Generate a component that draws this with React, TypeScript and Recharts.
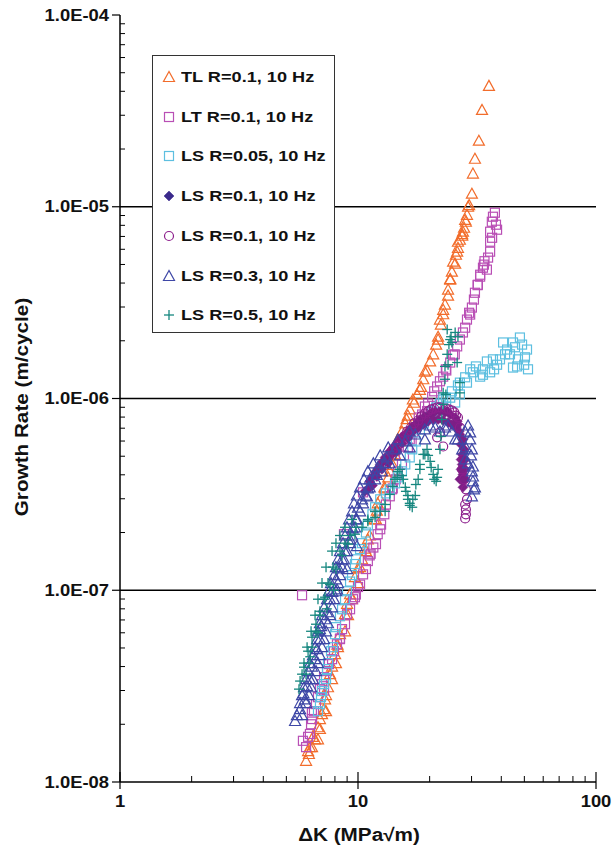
import React from 'react';
import { ScatterChart, Scatter, XAxis, YAxis, ReferenceLine } from 'recharts';

const FONT = '"Liberation Sans", Arial, Helvetica, sans-serif';

// ΔK (MPa√m) vs growth rate (m/cycle)
const tlR01: [number, number][] = [
  [6.05, 1.29e-8], [6.17, 1.45e-8], [6.22, 1.4e-8], [6.28, 1.52e-8], [6.41, 1.52e-8], [6.47, 1.72e-8],
  [6.6, 1.67e-8], [6.79, 1.67e-8], [6.79, 1.93e-8], [6.92, 1.89e-8], [6.92, 2.13e-8], [7.06, 2.26e-8],
  [7.2, 2.4e-8], [7.34, 2.34e-8], [7.27, 2.7e-8], [7.34, 2.84e-8], [7.48, 3.12e-8], [7.63, 3.65e-8],
  [7.78, 3.44e-8], [7.78, 4.0e-8], [8.08, 4.17e-8], [8.01, 4.64e-8], [8.24, 5.05e-8], [8.2, 5.2e-8],
  [8.4, 5.9e-8], [8.82, 6.11e-8], [8.82, 7.5e-8], [9.08, 7.41e-8], [9.0, 8.5e-8], [9.26, 9.53e-8],
  [9.44, 8.98e-8], [9.71, 1.17e-7], [10.0, 1.09e-7], [10.0, 1.3e-7], [10.2, 1.32e-7], [10.4, 1.45e-7],
  [10.7, 1.65e-7], [10.8, 1.6e-7], [11.0, 1.84e-7], [11.2, 1.93e-7], [11.7, 2.34e-7], [11.9, 2.34e-7],
  [12.0, 2.6e-7], [12.1, 2.84e-7], [12.4, 2.98e-7], [12.9, 3.44e-7], [13.0, 3.4e-7], [13.4, 3.88e-7],
  [13.6, 4.17e-7], [14.0, 4.5e-7], [13.9, 5.05e-7], [14.3, 5.11e-7], [14.7, 6.12e-7], [15.0, 6.0e-7],
  [15.3, 6.73e-7], [15.8, 7.41e-7], [16.0, 7.8e-7], [16.2, 8.15e-7], [16.5, 8.77e-7], [17.2, 9.5e-7],
  [17.0, 9.88e-7], [17.7, 1.05e-6], [18.2, 1.11e-6], [18.4, 1.15e-6], [18.8, 1.26e-6], [19.1, 1.38e-6],
  [19.5, 1.4e-6], [20.1, 1.56e-6], [20.7, 1.7e-6], [21.3, 1.91e-6], [21.7, 2.03e-6], [21.7, 2.1e-6],
  [22.3, 2.43e-6], [22.1, 2.58e-6], [22.8, 2.75e-6], [22.8, 2.9e-6], [23.2, 3.09e-6], [23.9, 3.44e-6],
  [23.9, 3.7e-6], [24.4, 4.17e-6], [24.4, 4.2e-6], [24.8, 4.59e-6], [25.6, 5.05e-6], [25.1, 5.17e-6],
  [25.8, 5.62e-6], [26.1, 5.83e-6], [26.3, 6.11e-6], [26.3, 6.57e-6], [26.8, 6.73e-6], [27.4, 7.06e-6],
  [27.4, 7.2e-6], [27.6, 7.41e-6], [27.9, 7.77e-6], [28.4, 8.35e-6], [28.2, 8.55e-6], [28.7, 9.08e-6],
  [29.0, 1.0e-5], [29.3, 1.02e-5], [30.1, 1.17e-5], [30.4, 1.49e-5], [31.0, 1.78e-5], [32.2, 2.21e-5],
  [33.2, 3.2e-5], [35.5, 4.27e-5],
];

const ltR01: [number, number][] = [
  [6.05, 1.52e-8], [5.87, 1.64e-8], [6.17, 1.72e-8], [6.28, 1.78e-8], [6.35, 2.0e-8], [6.41, 2.13e-8],
  [6.4, 2.3e-8], [6.53, 2.34e-8], [6.66, 2.55e-8], [6.79, 2.77e-8], [6.92, 3.05e-8], [7.06, 3.24e-8],
  [7.2, 3.0e-8], [7.2, 3.52e-8], [7.41, 3.79e-8], [7.55, 4.12e-8], [7.78, 4.37e-8], [7.93, 4.81e-8],
  [8.16, 5.23e-8], [8.4, 5.56e-8], [8.4, 5.6e-8], [8.57, 6.27e-8], [8.82, 6.65e-8], [8.99, 7.5e-8],
  [9.26, 7.96e-8], [9.53, 8.98e-8], [9.71, 9.2e-8], [9.8, 9.5e-8], [10.0, 1.04e-7], [10.2, 1.07e-7],
  [10.5, 1.21e-7], [10.8, 1.29e-7], [11.0, 1.42e-7], [11.2, 1.52e-7], [11.3, 1.55e-7], [11.6, 1.67e-7],
  [11.9, 1.74e-7], [12.1, 1.96e-7], [12.4, 2.08e-7], [12.5, 2.2e-7], [12.9, 2.49e-7], [13.1, 2.8e-7],
  [13.6, 3.09e-7], [13.9, 3.36e-7], [14.0, 3.4e-7], [14.4, 3.79e-7], [14.7, 4.17e-7], [15.3, 4.53e-7],
  [15.6, 5.05e-7], [16.2, 5.55e-7], [16.8, 6.0e-7], [16.5, 6.12e-7], [17.0, 6.65e-7], [17.5, 7.06e-7],
  [18.0, 7.96e-7], [18.6, 8.25e-7], [19.1, 9.08e-7], [19.5, 8.6e-7], [19.7, 9.42e-7], [20.5, 1.02e-6],
  [20.9, 1.09e-6], [21.5, 1.155e-6], [22.1, 1.23e-6], [22.8, 1.3e-6], [23.4, 1.42e-6], [23.5, 1.4e-6],
  [24.4, 1.54e-6], [25.1, 1.68e-6], [25.5, 1.7e-6], [26.1, 1.87e-6], [26.8, 2.03e-6], [27.6, 2.21e-6],
  [28.2, 2.34e-6], [28.7, 2.58e-6], [29.6, 2.74e-6], [29.3, 2.8e-6], [30.1, 2.98e-6], [30.7, 3.28e-6],
  [31.0, 3.56e-6], [31.9, 3.92e-6], [31.8, 3.9e-6], [32.6, 4.32e-6], [32.6, 4.42e-6], [33.5, 4.81e-6],
  [33.8, 4.99e-6], [34.0, 5.2e-6], [34.8, 4.7e-6], [35.2, 5.43e-6], [35.9, 5.83e-6], [35.9, 6.57e-6],
  [36.6, 6.89e-6], [35.9, 7.41e-6], [38.4, 7.59e-6], [38.0, 8.06e-6], [36.5, 8.35e-6], [36.9, 8.87e-6],
  [37.6, 9.31e-6],
  [5.82, 9.42e-8], [8.73, 1.96e-7], [10.5, 3.24e-7],
];

const lsR005: [number, number][] = [
  [6.79, 2.34e-8], [6.92, 2.55e-8], [6.99, 2.77e-8], [7.06, 2.98e-8], [7.2, 3.24e-8], [7.34, 3.44e-8],
  [7.41, 3.88e-8], [7.48, 4.17e-8], [7.7, 4.81e-8], [7.85, 5.05e-8], [8.01, 5.9e-8], [8.08, 6.42e-8],
  [8.4, 7.32e-8], [8.57, 7.96e-8], [8.82, 8.98e-8], [8.99, 9.88e-8], [9.26, 1.11e-7], [9.44, 1.2e-7],
  [9.71, 1.37e-7], [9.81, 1.45e-7], [10.2, 1.64e-7], [10.4, 1.76e-7], [10.8, 2.0e-7], [11.0, 2.18e-7],
  [11.5, 2.49e-7], [11.8, 2.71e-7], [12.4, 2.98e-7], [13.1, 3.2e-7], [13.6, 3.36e-7], [14.3, 3.61e-7],
  [14.7, 3.88e-7], [15.3, 4.17e-7], [15.8, 4.53e-7], [16.5, 4.93e-7], [16.9, 5.43e-7], [17.5, 5.97e-7],
  [18.2, 6.9e-7], [18.9, 7.41e-7], [19.7, 7.96e-7], [20.5, 8.56e-7], [21.3, 8.98e-7], [22.1, 9.42e-7],
  [22.8, 9.88e-7], [23.4, 1.01e-6], [24.4, 1.01e-6], [24.8, 1.09e-6], [25.6, 9.53e-7], [26.3, 1.17e-6],
  [26.8, 1.05e-6], [26.8, 1.21e-6], [28.2, 1.29e-6], [28.7, 1.21e-6], [29.6, 1.42e-6], [30.4, 1.37e-6],
  [31.3, 1.47e-6], [32.6, 1.3e-6], [33.5, 1.33e-6], [33.5, 1.42e-6], [34.8, 1.56e-6], [35.9, 1.37e-6],
  [36.9, 1.6e-6], [37.3, 1.42e-6], [38.4, 1.5e-6], [39.5, 1.6e-6], [40.7, 1.96e-6], [41.5, 1.7e-6],
  [42.3, 1.8e-6], [43.5, 1.7e-6], [44.8, 1.96e-6], [44.8, 1.45e-6], [45.7, 1.85e-6], [46.6, 1.47e-6],
  [47.0, 1.6e-6], [47.9, 2.08e-6], [48.9, 1.91e-6], [49.9, 1.5e-6], [50.3, 1.64e-6], [51.3, 1.8e-6],
  [51.8, 1.42e-6],
];

const lsR01Diamond: [number, number][] = [
  [10.7, 3.28e-7], [11.0, 3.36e-7], [11.2, 3.7e-7], [11.5, 3.52e-7], [11.5, 3.9e-7], [11.8, 4.12e-7],
  [12.0, 3.92e-7], [12.1, 4.3e-7], [12.4, 4.53e-7], [12.6, 4.27e-7], [12.7, 4.7e-7], [13.0, 4.93e-7],
  [13.1, 4.7e-7], [13.4, 4.6e-7], [13.6, 5.3e-7], [13.9, 5.11e-7], [14.0, 5.5e-7], [14.3, 5.69e-7],
  [14.6, 5.3e-7], [14.6, 5.43e-7], [15.0, 6.12e-7], [15.3, 5.83e-7], [15.3, 6.3e-7], [15.8, 6.49e-7],
  [16.2, 6.2e-7], [16.2, 6.27e-7], [16.5, 6.9e-7], [16.9, 7.1e-7], [17.0, 6.73e-7], [17.4, 7.32e-7],
  [17.9, 7.06e-7], [18.0, 7.2e-7], [18.2, 7.77e-7], [18.8, 7.32e-7], [18.8, 7.9e-7], [19.1, 8.06e-7],
  [19.7, 7.59e-7], [20.1, 8.35e-7], [20.5, 8.4e-7], [20.7, 7.77e-7], [21.1, 8.56e-7], [21.7, 7.77e-7],
  [22.1, 8.56e-7], [22.8, 7.68e-7], [23.2, 8.46e-7], [23.7, 8.6e-7], [23.9, 7.5e-7], [24.4, 8.25e-7],
  [24.8, 7.32e-7], [25.6, 7.96e-7], [25.8, 7.06e-7], [26.1, 7.6e-7], [26.3, 7.32e-7], [26.6, 6.73e-7],
  [26.8, 6.49e-7], [27.6, 6.12e-7], [27.1, 5.76e-7], [27.9, 5.43e-7], [27.4, 5.11e-7], [28.2, 4.81e-7],
  [27.1, 4.8e-7], [27.4, 4.53e-7], [27.1, 4.27e-7], [28.2, 4.27e-7], [27.4, 4.2e-7], [27.6, 4.02e-7],
  [26.8, 3.79e-7], [28.2, 3.79e-7], [27.6, 3.7e-7], [27.6, 3.44e-7],
];

const lsR01Circle: [number, number][] = [
  [13.4, 4.93e-7], [14.0, 5.43e-7], [14.6, 5.69e-7], [15.0, 6.04e-7], [15.6, 6.34e-7], [16.1, 6.73e-7],
  [16.7, 7.06e-7], [17.2, 7.41e-7], [17.9, 7.68e-7], [18.4, 8.06e-7], [19.1, 8.35e-7], [19.7, 8.56e-7],
  [20.3, 8.77e-7], [20.9, 8.87e-7], [21.5, 8.98e-7], [22.1, 8.98e-7], [23.4, 8.87e-7], [24.1, 8.77e-7],
  [24.8, 8.66e-7], [25.4, 8.46e-7], [25.8, 8.15e-7], [26.3, 7.96e-7], [26.8, 7.06e-7], [21.5, 6.27e-7],
  [22.1, 6.65e-7], [22.8, 5.62e-7], [27.6, 4.81e-7], [27.4, 4.27e-7], [27.9, 3.79e-7], [28.4, 3.36e-7],
  [28.7, 2.98e-7], [28.2, 2.8e-7], [28.4, 2.64e-7], [28.4, 2.49e-7], [28.2, 2.37e-7],
];

const lsR03: [number, number][] = [
  [5.44, 2.08e-8], [5.54, 2.23e-8], [5.82, 2.23e-8], [5.71, 2.4e-8], [5.71, 2.58e-8], [6.05, 2.58e-8],
  [5.82, 2.84e-8], [6.22, 2.84e-8], [5.9, 2.9e-8], [5.99, 2.7e-8], [5.93, 3.12e-8], [6.35, 3.12e-8],
  [6.11, 3.16e-8], [6.05, 3.44e-8], [6.28, 3.44e-8], [6.47, 3.44e-8], [6.17, 3.79e-8], [6.66, 3.79e-8],
  [6.4, 4.0e-8], [6.28, 4.17e-8], [6.79, 4.17e-8], [6.6, 4.37e-8], [6.47, 4.59e-8], [6.92, 4.59e-8],
  [6.73, 4.93e-8], [6.6, 5.05e-8], [7.06, 5.05e-8], [6.92, 5.56e-8], [6.73, 5.56e-8], [7.2, 5.56e-8],
  [6.79, 6.11e-8], [7.34, 6.11e-8], [7.0, 6.5e-8], [6.92, 6.27e-8], [6.92, 6.73e-8], [7.48, 6.73e-8],
  [7.27, 7.06e-8], [7.06, 7.41e-8], [7.63, 7.41e-8], [7.41, 7.68e-8], [7.2, 8.15e-8], [7.78, 8.15e-8],
  [7.63, 8.98e-8], [7.41, 8.98e-8], [7.93, 8.98e-8], [7.8, 9.8e-8], [7.55, 9.88e-8], [8.08, 9.88e-8],
  [8.16, 1.01e-7], [7.7, 1.09e-7], [8.24, 1.09e-7], [8.08, 1.14e-7], [7.93, 1.2e-7], [8.4, 1.2e-7],
  [8.3, 1.3e-7], [8.08, 1.32e-7], [8.57, 1.32e-7], [8.99, 1.29e-7], [8.57, 1.45e-7], [8.24, 1.45e-7],
  [8.73, 1.45e-7], [8.8, 1.6e-7], [8.4, 1.6e-7], [8.99, 1.6e-7], [9.9, 1.7e-7], [8.65, 1.76e-7],
  [9.26, 1.76e-7], [9.26, 1.84e-7], [8.82, 1.93e-7], [9.44, 1.93e-7], [9.5, 2.1e-7], [8.99, 2.13e-7],
  [9.71, 2.13e-7], [9.81, 2.34e-7], [9.17, 2.34e-7], [9.9, 2.34e-7], [9.44, 2.58e-7], [10.2, 2.58e-7],
  [10.0, 2.7e-7], [9.62, 2.84e-7], [10.5, 2.84e-7], [10.4, 2.98e-7], [10.9, 3.09e-7], [9.9, 3.12e-7],
  [10.8, 3.12e-7], [11.0, 3.4e-7], [10.2, 3.44e-7], [11.2, 3.44e-7], [11.2, 3.79e-7], [10.6, 3.79e-7],
  [11.8, 3.79e-7], [12.0, 4.0e-7], [11.0, 4.17e-7], [12.6, 4.17e-7], [12.1, 4.37e-7], [11.6, 4.59e-7],
  [13.0, 4.6e-7], [13.6, 4.59e-7], [13.2, 4.93e-7], [12.4, 5.05e-7], [15.0, 5.05e-7], [14.3, 5.43e-7],
  [13.4, 5.56e-7], [16.5, 5.56e-7], [15.8, 5.97e-7], [14.7, 6.12e-7], [19.1, 6.12e-7], [25.6, 6.12e-7],
  [17.4, 6.49e-7], [16.5, 6.73e-7], [22.1, 6.73e-7], [28.2, 6.73e-7], [19.1, 6.9e-7], [21.1, 7.06e-7],
  [20.1, 7.23e-7], [23.9, 7.23e-7], [29.0, 7.23e-7], [23.2, 7.06e-7], [24.8, 6.73e-7], [26.3, 6.12e-7],
  [27.4, 5.43e-7], [28.4, 5.56e-7], [28.2, 4.81e-7], [29.0, 4.59e-7], [29.6, 6.65e-7], [29.6, 6.12e-7],
  [30.1, 5.43e-7], [29.85, 5.05e-7], [30.4, 4.42e-7], [30.1, 4.17e-7], [30.4, 3.92e-7], [30.4, 3.7e-7],
  [31.0, 3.44e-7], [30.7, 3.36e-7], [30.1, 3.09e-7],
];

const lsR05: [number, number][] = [
  [5.71, 3.36e-8], [5.65, 3.05e-8], [5.82, 3.65e-8], [6.05, 3.65e-8], [5.93, 3.97e-8], [5.93, 4.17e-8],
  [6.22, 4.17e-8], [6.17, 4.81e-8], [6.3, 4.5e-8], [6.11, 5.05e-8], [6.41, 5.05e-8], [6.41, 5.69e-8],
  [6.35, 6.11e-8], [6.66, 6.11e-8], [6.66, 6.65e-8], [6.8, 6.0e-8], [6.6, 7.41e-8], [6.92, 7.41e-8],
  [6.92, 7.77e-8], [6.79, 8.98e-8], [7.2, 8.98e-8], [7.27, 9.2e-8], [7.4, 8.0e-8], [7.06, 1.09e-7],
  [7.48, 1.09e-7], [7.63, 1.07e-7], [7.9, 1.0e-7], [7.34, 1.32e-7], [7.85, 1.32e-7], [8.08, 1.29e-7],
  [8.57, 1.52e-7], [7.78, 1.6e-7], [8.4, 1.6e-7], [8.08, 1.76e-7], [8.82, 1.76e-7], [9.08, 1.74e-7],
  [8.4, 1.93e-7], [9.26, 1.93e-7], [9.71, 1.96e-7], [8.82, 2.13e-7], [9.81, 2.13e-7], [10.4, 2.13e-7],
  [11.0, 2.29e-7], [9.44, 2.34e-7], [11.0, 2.34e-7], [11.8, 2.4e-7], [11.8, 2.58e-7], [12.4, 2.58e-7],
  [13.0, 2.58e-7], [13.0, 2.8e-7], [13.6, 3.16e-7], [14.0, 3.48e-7], [14.3, 3.79e-7], [14.6, 3.88e-7],
  [14.7, 4.17e-7], [15.0, 4.27e-7], [15.3, 3.97e-7], [15.5, 3.79e-7], [15.8, 3.44e-7], [15.9, 3.28e-7],
  [16.2, 3.12e-7], [16.2, 2.98e-7], [16.5, 2.84e-7], [16.5, 2.77e-7], [16.9, 2.71e-7], [17.0, 2.98e-7],
  [17.4, 3.12e-7], [17.5, 3.56e-7], [17.9, 3.79e-7], [18.2, 4.27e-7], [18.2, 4.53e-7], [18.8, 5.11e-7],
  [19.1, 5.11e-7], [19.5, 5.43e-7], [19.7, 5.05e-7], [20.1, 4.7e-7], [20.3, 4.37e-7], [20.7, 4.02e-7],
  [20.9, 3.79e-7], [21.3, 3.7e-7], [21.5, 3.88e-7], [21.7, 4.27e-7], [22.1, 5.43e-7], [22.3, 6.34e-7],
  [22.5, 7.77e-7], [22.8, 9.31e-7], [22.8, 1.07e-6], [23.4, 1.05e-6], [23.2, 1.26e-6], [23.2, 1.47e-6],
  [23.9, 1.5e-6], [23.7, 1.7e-6], [24.1, 1.91e-6], [24.8, 1.96e-6], [24.4, 2.03e-6], [24.6, 2.1e-6],
  [23.7, 2.29e-6], [25.6, 2.21e-6], [26.3, 2.1e-6], [26.1, 1.54e-6], [26.8, 1.21e-6], [26.8, 1.07e-6],
];

const SERIES = [
  { name: 'TL R=0.1, 10 Hz', data: tlR01, marker: 'triangle', color: '#F26C2B', key: '#F26C2B' },
  { name: 'LT R=0.1, 10 Hz', data: ltR01, marker: 'square', color: '#B94FB5', key: '#B94FB5' },
  { name: 'LS R=0.05, 10 Hz', data: lsR005, marker: 'square', color: '#5DBFE0', key: '#5DBFE0' },
  { name: 'LS R=0.1, 10 Hz', data: lsR01Diamond, marker: 'diamond', color: '#7D1F86', key: '#3B2A8C' },
  { name: 'LS R=0.1, 10 Hz', data: lsR01Circle, marker: 'circle', color: '#8C1E8C', key: '#8C1E8C' },
  { name: 'LS R=0.3, 10 Hz', data: lsR03, marker: 'triangle', color: '#3E47A6', key: '#3E47A6' },
  { name: 'LS R=0.5, 10 Hz', data: lsR05, marker: 'plus', color: '#16877F', key: '#16877F' },
];

const Y_TICKS: number[] = [];
for (let d = -8; d <= -5; d++) for (let k = 1; k <= 9; k++) Y_TICKS.push(k * Math.pow(10, d));
Y_TICKS.push(1e-4);
const X_TICKS: number[] = [];
for (let d = 0; d <= 1; d++) for (let k = 1; k <= 9; k++) X_TICKS.push(k * Math.pow(10, d));
X_TICKS.push(100);

function isMajor(v: number) {
  const e = Math.round(Math.log10(v));
  return Math.abs(v / Math.pow(10, e) - 1) < 1e-6;
}

function Marker({ kind, cx, cy, color }: { kind: string; cx: number; cy: number; color: string }) {
  if (cx == null || cy == null) return null;
  switch (kind) {
    case 'triangle':
      return <polygon points={`${cx},${cy - 5.5} ${cx - 5.5},${cy + 4.5} ${cx + 5.5},${cy + 4.5}`} fill="none" stroke={color} strokeWidth={1.2} />;
    case 'square':
      return <rect x={cx - 4.5} y={cy - 4.5} width={9} height={9} fill="none" stroke={color} strokeWidth={1.2} />;
    case 'diamond':
      return <polygon points={`${cx},${cy - 5} ${cx + 5},${cy} ${cx},${cy + 5} ${cx - 5},${cy}`} fill={color} stroke={color} strokeWidth={0.5} />;
    case 'circle':
      return <circle cx={cx} cy={cy} r={4.5} fill="none" stroke={color} strokeWidth={1.2} />;
    default:
      return (
        <g stroke={color} strokeWidth={1.3}>
          <line x1={cx - 5} x2={cx + 5} y1={cy} y2={cy} />
          <line x1={cx} x2={cx} y1={cy - 5} y2={cy + 5} />
        </g>
      );
  }
}

function YTick({ x, y, payload }: any) {
  const v = payload.value;
  if (!isMajor(v)) return <line x1={x} x2={x + 5} y1={y} y2={y} stroke="#000" strokeWidth={1} />;
  const e = Math.round(Math.log10(v));
  const label = `1.0E-${String(-e).padStart(2, '0')}`;
  return (
    <g>
      <line x1={x - 8} x2={x} y1={y} y2={y} stroke="#000" strokeWidth={1.2} />
      <text transform={`translate(${x - 11},${y + 5.5}) scale(1.15,1)`} textAnchor="end" fontFamily={FONT}
        fontWeight="bold" fontSize={16} fill="#111">{label}</text>
    </g>
  );
}

function XTick({ x, y, payload }: any) {
  const v = payload.value;
  if (!isMajor(v)) return <line x1={x} x2={x} y1={y - 6} y2={y} stroke="#000" strokeWidth={1} />;
  return (
    <g>
      <line x1={x} x2={x} y1={y - 10} y2={y + 7} stroke="#000" strokeWidth={1.2} />
      <text transform={`translate(${x},${y + 25}) scale(1.15,1)`} textAnchor="middle" fontFamily={FONT}
        fontWeight="bold" fontSize={16} fill="#111">{String(v)}</text>
    </g>
  );
}

function LegendBox() {
  return (
    <div style={{ position: 'absolute', left: 152, top: 55, width: 183, height: 278, boxSizing: 'border-box',
      border: '1.5px solid #333', background: '#fff', fontFamily: FONT }}>
      {SERIES.map((s, i) => {
        const cy = 21 + i * 39.7;
        return (
          <React.Fragment key={i}>
            <svg width={16} height={16} style={{ position: 'absolute', left: 8, top: cy - 8 }}>
              <Marker kind={s.marker} cx={8} cy={8} color={s.key} />
            </svg>
            <div style={{ position: 'absolute', left: 28, top: cy - 9, lineHeight: '18px', fontSize: 15.5,
              fontWeight: 'bold', color: '#111', whiteSpace: 'nowrap', transform: 'scaleX(1.17)', transformOrigin: 'left center' }}>
              {s.name}
            </div>
          </React.Fragment>
        );
      })}
    </div>
  );
}

export default function App() {
  return (
    <div style={{ position: 'absolute', left: 0, top: 0, width: 613, height: 846, background: '#fff' }}>
      <ScatterChart width={613} height={846} margin={{ top: 15, right: 17, bottom: 0, left: 10 }}>
        <XAxis type="number" dataKey="dk" scale="log" domain={[1, 100]} allowDataOverflow ticks={X_TICKS}
          interval={0} height={64} tickSize={0} tickMargin={0} tickLine={false}
          axisLine={{ stroke: '#000', strokeWidth: 1.5 }} tick={(p: any) => <XTick {...p} />} />
        <YAxis type="number" dataKey="rate" scale="log" domain={[1e-8, 1e-4]} allowDataOverflow ticks={Y_TICKS}
          interval={0} width={110} tickSize={0} tickMargin={0} tickLine={false}
          axisLine={{ stroke: '#000', strokeWidth: 1.5 }} tick={(p: any) => <YTick {...p} />} />
        {[1e-7, 1e-6, 1e-5].map((v) => (
          <ReferenceLine key={v} y={v} stroke="#000" strokeWidth={1.5} />
        ))}
        {SERIES.map((s, i) => (
          <Scatter key={i} name={s.name} data={s.data.map(([dk, rate]) => ({ dk, rate }))} isAnimationActive={false}
            shape={(p: any) => <Marker kind={s.marker} cx={p.cx} cy={p.cy} color={s.color} />} />
        ))}
      </ScatterChart>
      <LegendBox />
      <div style={{ position: 'absolute', left: 22, top: 407, transform: 'translate(-50%,-50%) rotate(-90deg) scale(1.15,1)',
        fontFamily: FONT, fontWeight: 'bold', fontSize: 18, lineHeight: '20px', whiteSpace: 'nowrap', color: '#111' }}>
        Growth Rate (m/cycle)
      </div>
      <div style={{ position: 'absolute', left: 359, top: 835, transform: 'translate(-50%,-50%) scale(1.15,1)',
        fontFamily: FONT, fontWeight: 'bold', fontSize: 18, lineHeight: '20px', whiteSpace: 'nowrap', color: '#111' }}>
        ΔK (MPa√m)
      </div>
    </div>
  );
}
